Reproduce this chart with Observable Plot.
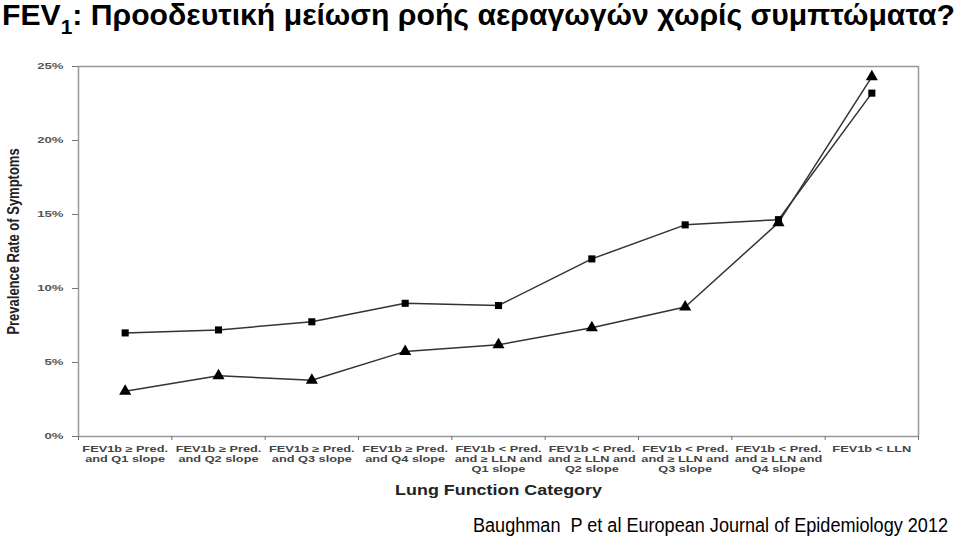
<!DOCTYPE html>
<html>
<head>
<meta charset="utf-8">
<script src="https://cdn.jsdelivr.net/npm/d3@7"></script>
<script src="https://cdn.jsdelivr.net/npm/@observablehq/plot@0.6"></script>
<style>
  html, body { margin: 0; padding: 0; background: #fff; }
  body { width: 959px; height: 536px; position: relative; overflow: hidden; }
  #title { position: absolute; left: 2px; top: 1px; font-family: "Liberation Sans", Arial, sans-serif; font-weight: bold; font-size: 29px; line-height: 1; white-space: nowrap; transform-origin: 0 0; color: #000; }
  #title .sub { font-size: 20px; position: relative; top: 9px; }
  #chart { position: absolute; left: 0; top: 40px; }
  #caption { position: absolute; left: 473px; top: 515px; font-family: "Liberation Sans", Arial, sans-serif; font-size: 20px; line-height: 1; white-space: nowrap; transform-origin: 0 0; color: #000; }
</style>
</head>
<body>
<div id="title">FEV<span class="sub">1</span>: Προοδευτική μείωση ροής αεραγωγών χωρίς συμπτώματα?</div>
<div id="chart"></div>
<div id="caption">Baughman&nbsp; P et al European Journal of Epidemiology 2012</div>
<script>
const categories = [
  "FEV1b ≥ Pred.\nand Q1 slope",
  "FEV1b ≥ Pred.\nand Q2 slope",
  "FEV1b ≥ Pred.\nand Q3 slope",
  "FEV1b ≥ Pred.\nand Q4 slope",
  "FEV1b < Pred.\nand ≥ LLN and\nQ1 slope",
  "FEV1b < Pred.\nand ≥ LLN and\nQ2 slope",
  "FEV1b < Pred.\nand ≥ LLN and\nQ3 slope",
  "FEV1b < Pred.\nand ≥ LLN and\nQ4 slope",
  "FEV1b < LLN"
];
const squareValues = [7.0, 7.2, 7.75, 9.0, 8.85, 12.0, 14.3, 14.65, 23.2];
const triangleValues = [3.05, 4.1, 3.8, 5.75, 6.2, 7.35, 8.75, 14.45, 24.3];
const yTicks = [0, 5, 10, 15, 20, 25];
const yLabel = "Prevalence Rate of Symptoms";
const xLabel = "Lung Function Category";

const squares = squareValues.map((v, i) => ({pos: i + 0.5, value: v}));
const triangles = triangleValues.map((v, i) => ({pos: i + 0.5, value: v}));
const boundaries = d3.range(categories.length + 1);
const centers = categories.map((c, i) => i + 0.5);

const chart = Plot.plot({
  width: 959,
  height: 470,
  marginTop: 26,
  marginBottom: 74,
  marginLeft: 78,
  marginRight: 41,
  style: {fontFamily: "'Liberation Sans', Arial, sans-serif", background: "#fff"},
  x: {type: "linear", domain: [0, categories.length]},
  y: {domain: [0, 25]},
  marks: [
    Plot.frame({stroke: "#999", strokeWidth: 1.5}),
    Plot.axisY({className: "yticks", ticks: yTicks, tickFormat: d => d + "%", tickSize: 6, tickPadding: 9,
      fontSize: 8.5, fontWeight: "bold", fill: "#555", stroke: "#777", label: null}),
    Plot.axisX({ticks: boundaries, tickFormat: () => "", tickSize: 4, label: null, stroke: "#777"}),
    Plot.axisX({className: "xticks", ticks: centers, tickSize: 0, tickPadding: 9, tickFormat: d => categories[Math.round(d - 0.5)],
      fontSize: 8.5, fontWeight: "bold", fill: "#444", lineHeight: 1.14, label: null}),
    Plot.text([xLabel], {className: "xtitle", frameAnchor: "bottom", dy: 58, fontSize: 14, fontWeight: "bold", fill: "#222"}),
    Plot.text([yLabel], {className: "ytitle", frameAnchor: "left", textAnchor: "middle", rotate: -90, dx: -65, dy: -10, fontSize: 13, fontWeight: "bold", fill: "#222"}),
    Plot.line(squares, {x: "pos", y: "value", stroke: "#333", strokeWidth: 1.5}),
    Plot.line(triangles, {x: "pos", y: "value", stroke: "#333", strokeWidth: 1.5}),
    Plot.dot(squares, {x: "pos", y: "value", symbol: "square", r: 4, fill: "#000"}),
    Plot.dot(triangles, {x: "pos", y: "value", symbol: "triangle", r: 4.5, fill: "#000"})
  ]
});
document.getElementById("chart").append(chart);

// the source figure's text is stretched; reproduce that
function stretch(cls, sx, sy = 1) {
  d3.select(chart).selectAll(`.${cls} text`).each(function() {
    const t = this.getAttribute("transform") || "";
    this.setAttribute("transform", `${t} scale(${sx},${sy})`);
  });
}
stretch("xticks", 1.5);
stretch("yticks", 1.55);
stretch("xtitle", 1.28);
stretch("ytitle", 1, 1.3);

function fitWidth(id, target) {
  const el = document.getElementById(id);
  const w = el.getBoundingClientRect().width;
  el.style.transform = `scaleX(${target / w})`;
}
fitWidth("title", 953);
fitWidth("caption", 475);
</script>
</body>
</html>
